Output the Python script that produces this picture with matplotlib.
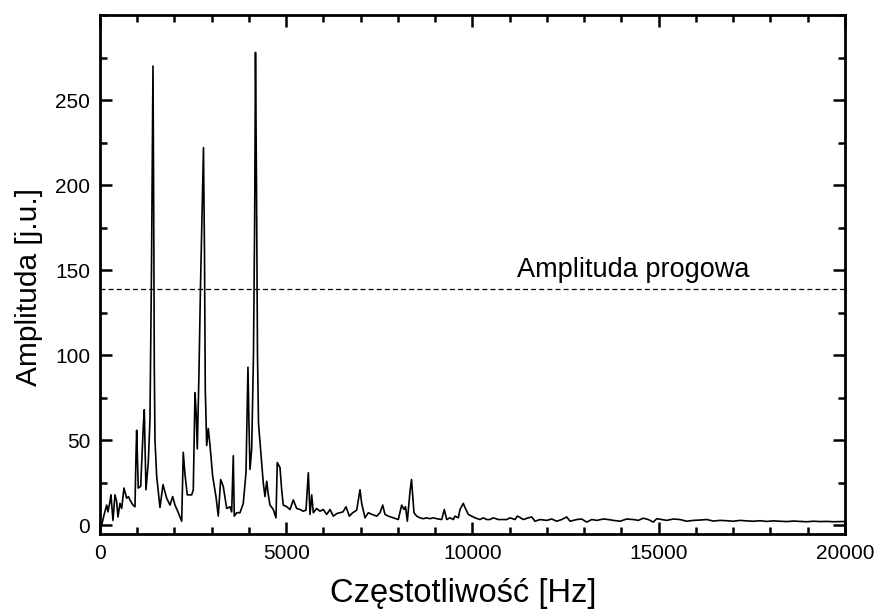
import matplotlib
matplotlib.use('Agg')
import matplotlib.pyplot as plt
from matplotlib.ticker import MultipleLocator

plt.rcParams['font.family'] = ['Liberation Sans', 'DejaVu Sans']

# spectrum
freq_hz = [54, 107, 180, 215, 268, 295, 349, 403, 448, 483, 537, 583, 644, 717, 765, 805,
           886, 940, 967, 985, 1028, 1093, 1163, 1189, 1235, 1297, 1342, 1383, 1410, 1423,
           1442, 1458, 1477, 1522, 1611, 1692, 1791, 1880, 1952, 2014, 2094, 2194, 2236,
           2282, 2344, 2462, 2505, 2551, 2583, 2613, 2658, 2698, 2738, 2779, 2806, 2827,
           2865, 2908, 2954, 3025, 3114, 3176, 3240, 3310, 3402, 3490, 3536, 3579, 3606,
           3670, 3759, 3847, 3920, 3955, 3973, 4000, 4027, 4073, 4121, 4153, 4175, 4202,
           4229, 4256, 4296, 4342, 4384, 4430, 4476, 4519, 4564, 4653, 4725, 4760, 4833,
           4878, 4921, 5013, 5101, 5190, 5281, 5370, 5458, 5531, 5593, 5639, 5684, 5727,
           5818, 5907, 5995, 6087, 6176, 6264, 6355, 6444, 6524, 6605, 6694, 6785, 6892,
           6981, 7026, 7115, 7204, 7303, 7429, 7518, 7590, 7652, 7741, 7875, 8009, 8100,
           8162, 8202, 8251, 8323, 8363, 8430, 8502, 8592, 8680, 8771, 8860, 8948, 9040,
           9174, 9244, 9308, 9397, 9486, 9531, 9620, 9665, 9754, 9800, 9889, 9980, 10068,
           10202, 10291, 10382, 10470, 10559, 10694, 10785, 10920, 11009, 11142, 11204,
           11277, 11365, 11500, 11590, 11680, 11814, 11993, 12127, 12262, 12396, 12530,
           12620, 12799, 12933, 13067, 13202, 13336, 13514, 13648, 13782, 13961, 14140,
           14319, 14453, 14587, 14721, 14856, 14946, 15080, 15214, 15393, 15572, 15751,
           15930, 16110, 16289, 16468, 16647, 16826, 17005, 17184, 17363, 17542, 17721,
           17900, 18079, 18258, 18437, 18616, 18795, 18974, 19153, 19332, 19511, 19690,
           19869, 20000]
amplitude = [1, 6, 12, 8, 14, 18, 3, 18, 14, 5, 13, 10, 22, 16, 17, 15,
             12, 11, 41, 56, 22, 23, 58, 68, 21, 37, 62, 150, 235, 270,
             190, 95, 50, 29, 10.6, 24, 16, 12, 17, 12, 8, 2.5, 43,
             30, 18, 18, 21, 78, 66, 45, 90, 140, 180, 222, 160, 80,
             47, 57, 47, 29, 17, 5.5, 27, 23, 10, 11, 8, 41, 5.5,
             7.5, 7.5, 13, 31, 70, 93, 60, 33, 45, 100, 180, 278, 200,
             100, 60, 49, 37, 25, 17, 26, 18, 12, 9.4, 4.5, 37, 34,
             21, 12, 11, 9.4, 15, 10, 9.4, 8.4, 9, 31, 6.5, 18, 7.5,
             10, 8.4, 9.4, 6.5, 9.4, 5.5, 7, 7.5, 8, 11, 5.5, 7.5, 9,
             21, 13, 4.5, 7.5, 6.5, 5.5, 7.5, 12, 6.5, 5.5, 4.5, 3.5, 12,
             9.4, 11, 2.5, 20, 27, 7.5, 5.5, 4.5, 4, 4.5, 4, 4.5, 4,
             3.5, 9.4, 3.5, 4.5, 3.5, 5.5, 4.5, 9.4, 13, 10.5, 6.5, 5.5, 4.5,
             3.5, 4.5, 3.5, 3.5, 4.5, 3.5, 3.5, 3.5, 4.5, 3.5, 5.5,
             4.7, 3.5, 4.5, 5, 2.5, 3.5, 3, 3.8, 2.5, 3.5, 5,
             2.5, 3.5, 3.8, 2, 3.5, 3, 3.8, 3.5, 3, 2.5, 3.8,
             3.5, 3, 4.3, 3.5, 2, 4, 3.5, 3, 3.8, 3.5, 2.5,
             3, 3.2, 3.5, 2.6, 3, 2.8, 2.5, 3, 2.7, 2.5, 2.8,
             2.4, 2.7, 2.5, 2.3, 2.6, 2.4, 2.2, 2.5, 2.3, 2.4, 2.2,
             2.3, 2.3]
threshold = 139
threshold_label = 'Amplituda progowa'

fig = plt.figure(figsize=(8.8, 6.14), dpi=100)
ax = fig.add_axes([0.1136, 0.1303, 0.8466, 0.8453])

ax.plot(freq_hz, amplitude, color='black', lw=1.2)
ax.axhline(threshold, color='black', lw=0.9, ls=(0, (4, 2.5)))
ax.text(11200, threshold + 3.5, threshold_label, fontsize=19.5, va='bottom', ha='left')

ax.set_xlim(0, 20000)
ax.set_ylim(-5, 300)
ax.xaxis.set_major_locator(MultipleLocator(5000))
ax.xaxis.set_minor_locator(MultipleLocator(1000))
ax.set_yticks([0, 50, 100, 150, 200, 250])
ax.yaxis.set_minor_locator(MultipleLocator(25))

ax.tick_params(which='both', direction='in', top=True, right=True, width=1.8, labelsize=15)
ax.tick_params(which='major', length=8.5, pad=7)
ax.tick_params(which='minor', length=5)
for s in ax.spines.values():
    s.set_linewidth(2.0)

ax.set_xlabel('Częstotliwość [Hz]', fontsize=23.5)
ax.set_ylabel('Amplituda [j.u.]', fontsize=21.5)
ax.xaxis.set_label_coords(0.488, -0.085)
ax.yaxis.set_label_coords(-0.077, 0.475)

fig.savefig('out.png', dpi=100)
